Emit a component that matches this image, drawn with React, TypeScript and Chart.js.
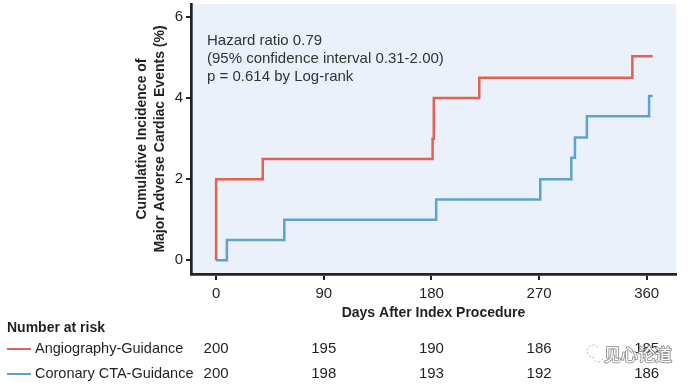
import React, { useEffect, useRef } from "react";
import { Chart, registerables } from "chart.js";

Chart.register(...registerables);

// ---- data ----
const xTickValues = [0, 90, 180, 270, 360];
const yTickValues = [0, 2, 4, 6];

const angioDays = [0, 0, 39, 181, 182, 220, 348, 365];
const angioValues = [0, 2.0, 2.5, 3.0, 4.0, 4.5, 5.03, 5.03];

const ctaDays = [0, 9, 57, 184, 271, 297, 300, 310, 362, 365];
const ctaValues = [0, 0.5, 1.0, 1.5, 2.0, 2.53, 3.03, 3.55, 4.05, 4.05];

const seriesNames = ["Angiography-Guidance", "Coronary CTA-Guidance"];
const angioAtRisk = [200, 195, 190, 186, 185];
const ctaAtRisk = [200, 198, 193, 192, 186];

const annotationLines = [
  "Hazard ratio 0.79",
  "(95% confidence interval 0.31-2.00)",
  "p = 0.614 by Log-rank",
];
const yTitleLines = ["Cumulative Incidence of", "Major Adverse Cardiac Events (%)"];
const xTitle = "Days After Index Procedure";
const riskTitle = "Number at risk";
const watermark = "见心论道";

const RED = "#E5614F";
const BLUE = "#5DA3CE";
const PLOT_BG = "#EAF1FA";
const TEXT = "#231F20";
const FONT = "'Liberation Sans', Arial, sans-serif";

export default function App() {
  const ref = useRef<HTMLCanvasElement | null>(null);

  useEffect(() => {
    document.body.style.margin = "0";
    const canvas = ref.current;
    if (!canvas) return;

    const bgPlugin = {
      id: "plotBg",
      beforeDraw(chart: any) {
        const { ctx, chartArea } = chart;
        ctx.save();
        ctx.fillStyle = PLOT_BG;
        ctx.fillRect(chartArea.left, chartArea.top, chartArea.right - chartArea.left, chartArea.bottom - chartArea.top);
        ctx.restore();
      },
    };

    const extrasPlugin = {
      id: "extras",
      afterDraw(chart: any) {
        const { ctx, chartArea } = chart;
        const xs = chart.scales.x;
        ctx.save();
        // annotation
        ctx.fillStyle = "#333";
        ctx.font = `15px ${FONT}`;
        ctx.textAlign = "left";
        ctx.textBaseline = "middle";
        annotationLines.forEach((t, i) => {
          ctx.fillText(t, chartArea.left + 16, chartArea.top + 37 + i * 18);
        });

        // number at risk
        ctx.fillStyle = TEXT;
        ctx.font = `bold 14px ${FONT}`;
        ctx.fillText(riskTitle, 7, 328);

        const rows = [
          { name: seriesNames[0], color: RED, vals: angioAtRisk, y: 349 },
          { name: seriesNames[1], color: BLUE, vals: ctaAtRisk, y: 374 },
        ];
        rows.forEach((r) => {
          ctx.strokeStyle = r.color;
          ctx.lineWidth = 2;
          ctx.beginPath();
          ctx.moveTo(7, r.y);
          ctx.lineTo(31, r.y);
          ctx.stroke();
          ctx.fillStyle = TEXT;
          ctx.font = `14.5px ${FONT}`;
          ctx.textAlign = "left";
          ctx.fillText(r.name, 35, r.y);
          ctx.font = `15px ${FONT}`;
          ctx.textAlign = "center";
          r.vals.forEach((v, i) => {
            ctx.fillText(String(v), xs.getPixelForValue(xTickValues[i]), r.y);
          });
        });

        // watermark (outlined, white-filled)
        ctx.textAlign = "left";
        ctx.font = `17px 'Noto Sans CJK SC', sans-serif`;
        ctx.lineJoin = "round";
        ctx.strokeStyle = "rgba(130,130,130,0.8)";
        ctx.lineWidth = 2;
        ctx.strokeText(watermark, 604, 355);
        ctx.fillStyle = "#ffffff";
        ctx.fillText(watermark, 604, 355);
        ctx.strokeStyle = "rgba(150,150,150,0.7)";
        ctx.lineWidth = 1;
        ctx.setLineDash([2, 2]);
        ctx.beginPath();
        ctx.arc(593, 351, 6, Math.PI * 0.6, Math.PI * 1.9);
        ctx.stroke();
        ctx.beginPath();
        ctx.arc(598, 357, 5, Math.PI * 0.1, Math.PI * 1.2);
        ctx.stroke();
        ctx.restore();
      },
    };

    const chart = new Chart(canvas, {
      type: "line",
      data: {
        datasets: [
          {
            label: seriesNames[0],
            data: angioDays.map((d, i) => ({ x: d, y: angioValues[i] })),
            borderColor: RED,
            borderWidth: 2.5,
            pointRadius: 0,
            stepped: true,
            fill: false,
          },
          {
            label: seriesNames[1],
            data: ctaDays.map((d, i) => ({ x: d, y: ctaValues[i] })),
            borderColor: BLUE,
            borderWidth: 2.5,
            pointRadius: 0,
            stepped: true,
            fill: false,
          },
        ],
      },
      options: {
        responsive: false,
        animation: false,
        devicePixelRatio: 1,
        layout: { padding: { left: 0, right: 20, top: 4, bottom: 62 } },
        plugins: {
          legend: { display: false },
          tooltip: { enabled: false },
        },
        scales: {
          x: {
            type: "linear",
            min: -21,
            max: 384.5,
            afterBuildTicks: (s: any) => {
              s.ticks = xTickValues.map((v) => ({ value: v }));
            },
            afterFit: (s: any) => {
              s.height = 50;
              s.paddingLeft = 0;
              s.paddingRight = 0;
            },
            grid: {
              display: true,
              drawOnChartArea: false,
              drawTicks: true,
              tickLength: 6,
              tickWidth: 2,
              color: "#222",
              lineWidth: 2,
            },
            border: { display: true, color: "#222", width: 2.7 },
            ticks: {
              autoSkip: false,
              maxRotation: 0,
              padding: 5,
              color: TEXT,
              font: { family: FONT, size: 15 },
            },
            title: {
              display: true,
              text: xTitle,
              color: TEXT,
              font: { family: FONT, size: 14, weight: "bold" },
              padding: { top: 0, bottom: 2 },
            },
          },
          y: {
            type: "linear",
            min: -0.338,
            max: 6.32,
            afterBuildTicks: (s: any) => {
              s.ticks = yTickValues.map((v) => ({ value: v }));
            },
            afterFit: (s: any) => {
              s.width = 191;
              s.paddingTop = 0;
              s.paddingBottom = 0;
            },
            grid: {
              display: true,
              drawOnChartArea: false,
              drawTicks: true,
              tickLength: 5,
              tickWidth: 2,
              color: "#222",
              lineWidth: 2,
            },
            border: { display: true, color: "#222", width: 2.7 },
            ticks: {
              padding: 3,
              color: TEXT,
              font: { family: FONT, size: 15 },
            },
            title: {
              display: true,
              text: yTitleLines,
              color: TEXT,
              font: { family: FONT, size: 14, weight: "bold", lineHeight: 1.286 },
              padding: { top: 133, bottom: 0 },
            },
          },
        },
      },
      plugins: [bgPlugin, extrasPlugin],
    } as any);

    return () => {
      chart.destroy();
    };
  }, []);

  return (
    <div style={{ position: "absolute", left: 0, top: 0, width: 696, height: 386, background: "#fff" }}>
      <canvas ref={ref} width={696} height={386} style={{ display: "block", width: 696, height: 386 }} />
    </div>
  );
}
